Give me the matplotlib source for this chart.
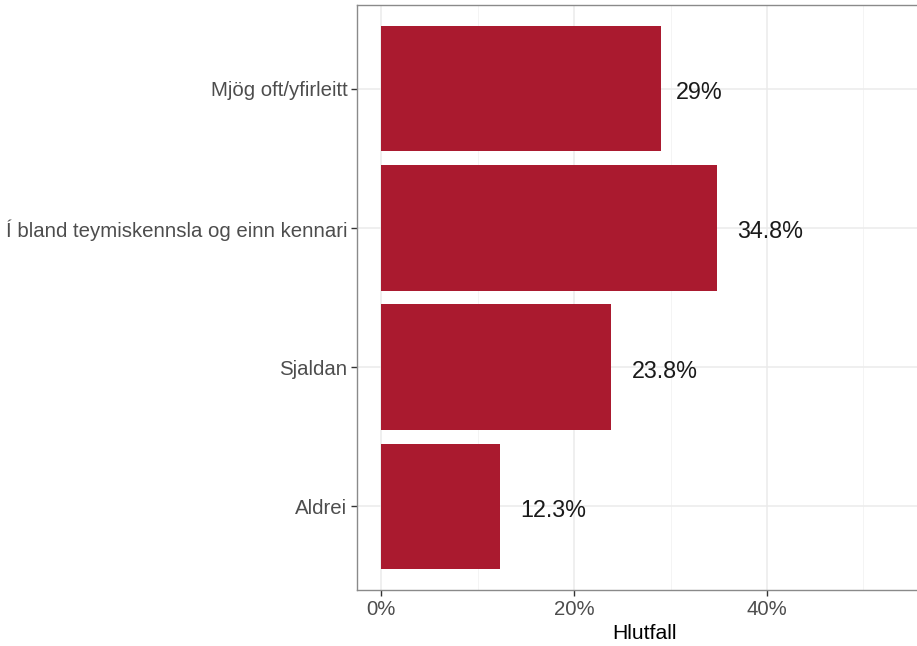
import matplotlib
matplotlib.use("Agg")
import matplotlib.pyplot as plt
from matplotlib.ticker import FuncFormatter, MultipleLocator

categories = ["Mjög oft/yfirleitt", "Í bland teymiskennsla og einn kennari", "Sjaldan", "Aldrei"]
values = [29.0, 34.8, 23.8, 12.3]
labels = ["29%", "34.8%", "23.8%", "12.3%"]

plt.rcParams['font.family'] = ['Liberation Sans', 'DejaVu Sans']

W, H = 917, 646
fig = plt.figure(figsize=(W / 100, H / 100), dpi=100)
x0_px, x_right_px = 357, 931
ax = fig.add_axes([x0_px / W, (H - 590) / H, (x_right_px - x0_px) / W, (590 - 5) / H])

n = len(categories)
ypos = list(range(n, 0, -1))
ax.barh(ypos, values, height=0.9, color="#AA1A2F", zorder=3)

ax.set_xlim(-2.5, 57)
ax.set_ylim(0.4, n + 0.6)
ax.set_yticks(ypos)
ax.set_yticklabels(categories)
ax.xaxis.set_major_locator(MultipleLocator(20))
ax.xaxis.set_minor_locator(MultipleLocator(10))
ax.xaxis.set_major_formatter(FuncFormatter(lambda v, p: f"{v:.0f}%"))

ax.grid(which="major", color="#EBEBEB", linewidth=1.1, zorder=0)
ax.grid(which="minor", axis="x", color="#F2F2F2", linewidth=0.6, zorder=0)
ax.set_axisbelow(True)
for s in ax.spines.values():
    s.set_color("#8A8A8A")
    s.set_linewidth(1.0)

ax.tick_params(axis="both", which="major", length=4, width=1.0, color="#333333",
               labelsize=14.7, labelcolor="#4D4D4D", pad=3)
ax.tick_params(axis="x", which="minor", length=0)
for t in ax.get_yticklabels():
    t.set_va("center_baseline")
ax.set_xlabel("Hlutfall", fontsize=15.2, color="black", labelpad=4)

fig.canvas.draw()
renderer = fig.canvas.get_renderer()
for y, v, lab in zip(ypos, values, labels):
    t = ax.text(v, y, lab, fontsize=16.8, va="center", ha="left", color="#1a1a1a")
    w = t.get_window_extent(renderer).width
    t.remove()
    ax.annotate(lab, xy=(v, y), xytext=(w * 0.3 + 1, -4), textcoords="offset pixels",
                fontsize=16.8, va="center", ha="left", color="#1a1a1a")

fig.savefig("out.png", dpi=100)
